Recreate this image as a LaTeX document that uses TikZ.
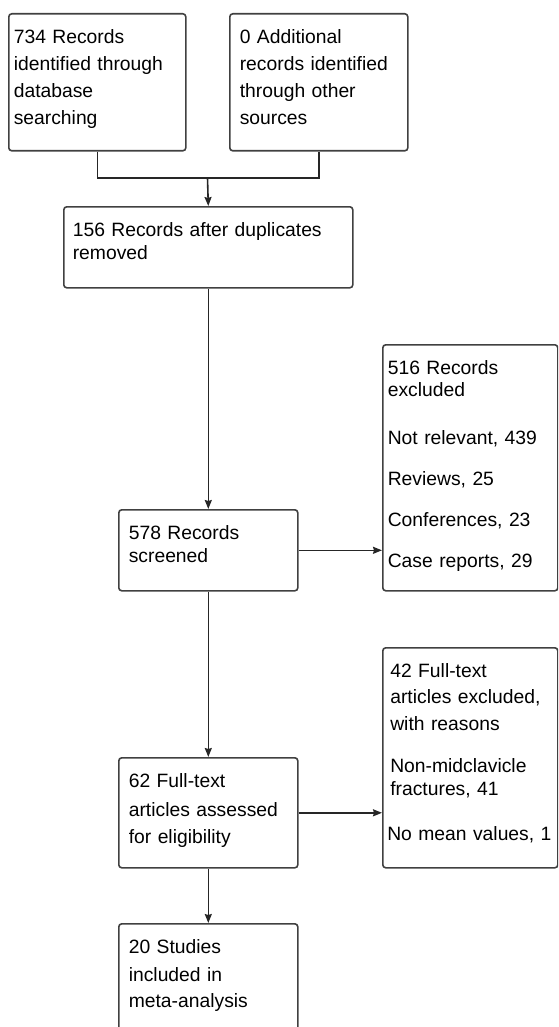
\documentclass[tikz,border=0pt]{standalone}
\usepackage{fontspec}
\setmainfont{Liberation Sans}
\usetikzlibrary{arrows.meta}
\begin{document}
\begin{tikzpicture}[x=1pt,y=-1pt,
  box/.style={draw=black!75,line width=1.6pt,rounded corners=3pt,anchor=north west,
    align=left,inner ysep=0pt,text height=30pt,font=\fontsize{19.3}{27}\selectfont},
  link/.style={draw=black!85,line width=1.6pt},
  arr/.style={link,-{Stealth[length=9pt,width=7pt,inset=1pt]}}]
\useasboundingbox (0,0) rectangle (558,1027);
\clip (0,0) rectangle (558,1027);
\node[box,text width=167pt,inner xsep=5pt,text depth=107pt] (ident) at (8,13) {734 Records\\identified through\\database\\searching};
\node[box,text width=158pt,inner xsep=10pt,text depth=107pt] (other) at (229,13) {0 Additional\\records identified\\through other\\sources};
\node[box,text width=271pt,inner xsep=9pt,text depth=51pt] (dedup) at (63,206) {156 Records after duplicates\\[-4pt]removed};
\node[box,text width=159pt,inner xsep=10pt,text depth=51pt] (screen) at (118,509) {578 Records\\[-4pt]screened};
\node[box,text width=165pt,inner xsep=5pt,text depth=216pt] (excl) at (382,344) {516 Records\\[-5pt]excluded\\[21pt]Not relevant, 439\\[14pt]Reviews, 25\\[14pt]Conferences, 23\\[14pt]Case reports, 29};
\node[box,text width=159pt,inner xsep=10pt,text depth=80pt] (full) at (118,757) {62 Full-text\\[2pt]articles assessed\\for eligibility};
\node[box,text width=166pt,inner xsep=4.5pt,text depth=190pt] (fullexcl) at (382,647) {\hspace*{3pt}42 Full-text\\[-1pt]\hspace*{3pt}articles excluded,\\\hspace*{3pt}with reasons\\[15pt]\hspace*{3pt}Non-midclavicle\\[-4pt]\hspace*{3pt}fractures, 41\\[18pt]No mean values, 1};
\node[box,text width=159pt,inner xsep=10pt,text depth=110pt] (incl) at (118,923) {20 Studies\\[1pt]included in\\[-1pt]meta-analysis};
\coordinate (join) at (207.5,178);
\draw[link] (ident.south) |- (join) -| (other.south);
\draw[arr] (join) -- (dedup.north);
\draw[arr] (dedup) -- (screen);
\draw[arr] (screen.east) -- (screen.east -| excl.west);
\draw[arr] (screen) -- (full);
\draw[arr] (full.east) -- (full.east -| fullexcl.west);
\draw[arr] (full) -- (incl);
\end{tikzpicture}
\end{document}
